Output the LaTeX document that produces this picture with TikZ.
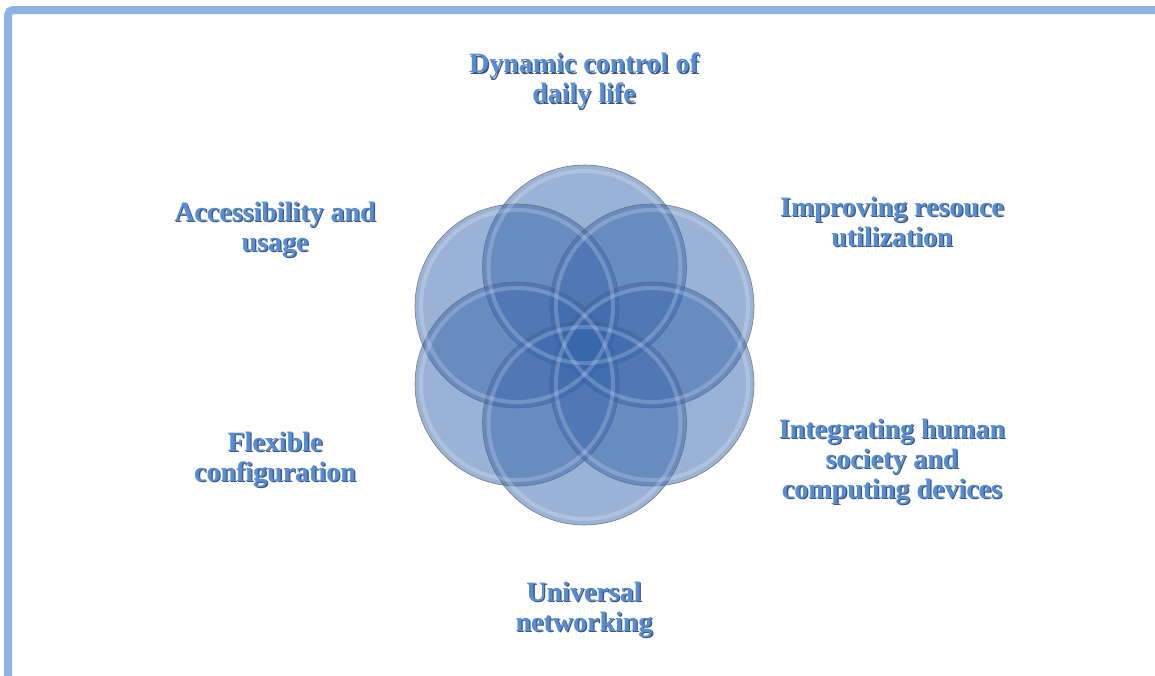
\documentclass[tikz,border=0pt]{standalone}
\usepackage{fontspec}
\setmainfont{Liberation Serif}
\usetikzlibrary{calc}
\definecolor{frameblue}{RGB}{142,180,227}
\definecolor{txtblue}{RGB}{85,142,213}
\definecolor{txtshadow}{RGB}{35,55,95}
\definecolor{petal}{RGB}{55,102,172}
\begin{document}
\begin{tikzpicture}[x=1pt,y=-1pt,
  petalnode/.style={circle, minimum size=204pt, inner sep=0pt, fill=petal, fill opacity=0.5, draw=black!60, draw opacity=0.8, line width=0.6pt},
  labelshadow/.style={align=center, text=txtshadow, text opacity=0.85, font=\bfseries\fontsize{28}{30}\selectfont, inner sep=0pt},
  labeltext/.style={align=center, text=txtblue, font=\bfseries\fontsize{28}{30}\selectfont, inner sep=0pt},
  rim/.style={draw=white, draw opacity=0.2, line width=4pt}]
\useasboundingbox (0,0) rectangle (1155,675);
\fill[white] (0,0) rectangle (1155,675);
% frame
\draw[frameblue, line width=8pt, rounded corners=5pt] (8,680) -- (8,10) -- (1160,10);
% petals
\node[petalnode] (top) at (584.5,267) {};
\node[petalnode] (ul) at (517,306) {};
\node[petalnode] (ur) at (652,306) {};
\node[petalnode] (ll) at (517,384) {};
\node[petalnode] (lr) at (652,384) {};
\node[petalnode] (bot) at (584.5,423) {};
\foreach \c in {top,ul,ur,ll,lr,bot}{
  \draw[rim] (\c.center) circle (96pt);
}
% labels
\foreach \n/\p/\t in {
  dyn/{584,81}/{Dynamic control of\\daily life},
  acc/{275,230}/{Accessibility and\\usage},
  imp/{892,222}/{Improving resouce\\utilization},
  flex/{275,460}/{Flexible\\configuration},
  integ/{892,462}/{Integrating human\\society and\\computing devices},
  uni/{584,610}/{Universal\\networking}}{
  \node[labelshadow] (\n s) at ($(\p)+(1.3,1.3)$) {\t};
  \node[labeltext] (\n) at (\p) {\t};
}
\end{tikzpicture}
\end{document}
